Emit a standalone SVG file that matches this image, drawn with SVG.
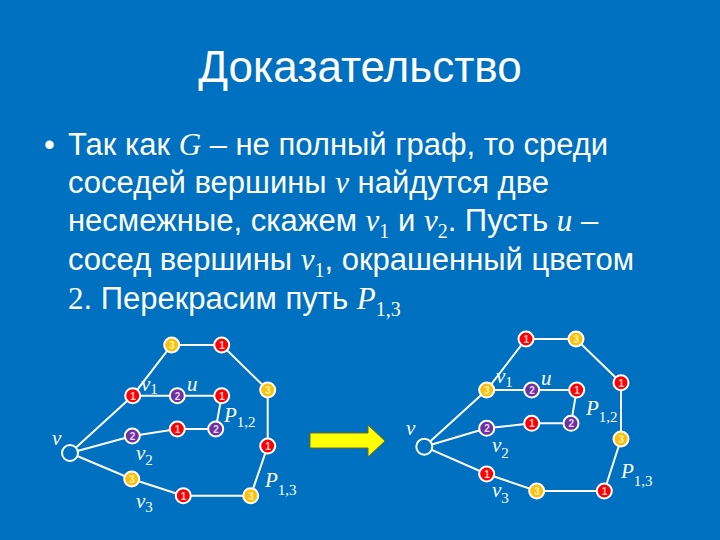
<svg xmlns="http://www.w3.org/2000/svg" width="720" height="540" viewBox="0 0 720 540">
<style>
.title{font-family:"Liberation Sans",Arial,sans-serif;font-size:44px;fill:#fff}
.body{font-family:"Liberation Sans",Arial,sans-serif;font-size:31px;fill:#fff}
.m{font-family:"Liberation Serif","Times New Roman",serif;font-style:italic}
.r{font-family:"Liberation Serif","Times New Roman",serif;font-style:normal}
.bs{font-family:"Liberation Serif","Times New Roman",serif;font-size:20px}
.lbl{font-family:"Liberation Serif","Times New Roman",serif;font-style:italic;font-size:21px;fill:#fff}
.sub{font-style:normal;font-size:15px}
.edge{stroke:#fff;stroke-width:2;fill:none}
.n circle{stroke:#fff;stroke-width:2}
.n text{font-family:"Liberation Sans",Arial,sans-serif;font-size:10px;font-weight:bold;fill:#fff;text-anchor:middle;opacity:0.8}
.c1{fill:#FF0000}
.c2{fill:#7030A0}
.c3{fill:#FFC000}
.cv{fill:#0070C0;stroke-width:2.5}
</style>
<rect width="720" height="540" fill="#0070C0"/>
<text class="title" x="360" y="82" text-anchor="middle">Доказательство</text>
<g id="text">
<text class="body" x="44" y="155">•</text>
<text class="body" x="68" y="155">Так как <tspan class="m">G</tspan> – не полный граф, то среди</text>
<text class="body" x="68" y="193">соседей вершины <tspan class="m">v</tspan> найдутся две</text>
<text class="body" x="68" y="231">несмежные, скажем <tspan class="m">v</tspan><tspan class="bs" dy="7">1</tspan><tspan dy="-7"> и </tspan><tspan class="m">v</tspan><tspan class="bs" dy="7">2</tspan><tspan dy="-7">. Пусть </tspan><tspan class="m">u</tspan> –</text>
<text class="body" x="68" y="270">сосед вершины <tspan class="m">v</tspan><tspan class="bs" dy="7">1</tspan><tspan dy="-7">, окрашенный цветом</tspan></text>
<text class="body" x="68" y="309"><tspan class="r">2</tspan>. Перекрасим путь <tspan class="m">P</tspan><tspan class="bs" dy="7">1,3</tspan></text>
</g>
<g id="connectors">
<polyline class="edge" points="70,453 132.7,395.7 171.7,345 221.7,345 267.7,390 267.7,446 250.7,495.7 183.3,495.7 131.7,479 70,453"/>
<polyline class="edge" points="70,453 132.3,436 177.3,429 215.7,429 221.7,395.7 177.3,395.7 132.7,395.7"/>
<polyline class="edge" points="424.3,446.7 486.7,390 526,339 576,339 621,382.7 621,439 604.3,491 536.7,491 486.7,474 424.3,446.7"/>
<polyline class="edge" points="424.3,446.7 486.7,428.3 531.7,423.3 571,423.3 576.7,390 531.7,390 486.7,390"/>
</g>
<g id="left-graph">
<g id="L-v" class="n"><circle class="cv" cx="70" cy="453" r="8"/></g>
<g id="L-v1" class="n"><circle class="c1" cx="132.7" cy="395.7" r="7.5"/><text x="133" y="399.5">1</text></g>
<g id="L-top1" class="n"><circle class="c3" cx="171.7" cy="345" r="7.5"/><text x="172" y="348.8">3</text></g>
<g id="L-top2" class="n"><circle class="c1" cx="221.7" cy="345" r="7.5"/><text x="222" y="348.8">1</text></g>
<g id="L-r1" class="n"><circle class="c3" cx="267.7" cy="390" r="7.5"/><text x="268" y="393.8">3</text></g>
<g id="L-r2" class="n"><circle class="c1" cx="267.7" cy="446" r="7.5"/><text x="268" y="449.8">1</text></g>
<g id="L-b1" class="n"><circle class="c3" cx="250.7" cy="495.7" r="7.5"/><text x="251" y="499.5">3</text></g>
<g id="L-b2" class="n"><circle class="c1" cx="183.3" cy="495.7" r="7.5"/><text x="183.5" y="499.5">1</text></g>
<g id="L-v3" class="n"><circle class="c3" cx="131.7" cy="479" r="7.5"/><text x="132" y="482.8">3</text></g>
<g id="L-v2" class="n"><circle class="c2" cx="132.3" cy="436" r="7.5"/><text x="132.5" y="439.8">2</text></g>
<g id="L-m1" class="n"><circle class="c1" cx="177.3" cy="429" r="7.5"/><text x="177.5" y="432.8">1</text></g>
<g id="L-m2" class="n"><circle class="c2" cx="215.7" cy="429" r="7.5"/><text x="216" y="432.8">2</text></g>
<g id="L-u" class="n"><circle class="c2" cx="177.3" cy="395.7" r="7.5"/><text x="177.5" y="399.5">2</text></g>
<g id="L-ur" class="n"><circle class="c1" cx="221.7" cy="395.7" r="7.5"/><text x="222" y="399.5">1</text></g>
</g>
<g id="left-labels">
<text class="lbl" x="52" y="445">v</text>
<text class="lbl" x="141" y="391">v<tspan class="sub" dy="3">1</tspan></text>
<text class="lbl" x="187" y="391">u</text>
<text class="lbl" x="224" y="422">P<tspan class="sub" dy="5">1,2</tspan></text>
<text class="lbl" x="136" y="460">v<tspan class="sub" dy="5">2</tspan></text>
<text class="lbl" x="136" y="508">v<tspan class="sub" dy="4">3</tspan></text>
<text class="lbl" x="265" y="487">P<tspan class="sub" dy="8">1,3</tspan></text>
</g>
<g id="arrow">
<polygon points="310,433 368,433 368,425 385,441 368,457 368,448 310,448" fill="#FFFF00" stroke="#6b6b2a" stroke-width="1"/>
</g>
<g id="right-graph">
<g id="R-v" class="n"><circle class="cv" cx="424.3" cy="446.7" r="8"/></g>
<g id="R-v1" class="n"><circle class="c3" cx="486.7" cy="390" r="7.5"/><text x="487" y="393.8">3</text></g>
<g id="R-top1" class="n"><circle class="c1" cx="526" cy="339" r="7.5"/><text x="526.3" y="342.8">1</text></g>
<g id="R-top2" class="n"><circle class="c3" cx="576" cy="339" r="7.5"/><text x="576.3" y="342.8">3</text></g>
<g id="R-r1" class="n"><circle class="c1" cx="621" cy="382.7" r="7.5"/><text x="621.3" y="386.5">1</text></g>
<g id="R-r2" class="n"><circle class="c3" cx="621" cy="439" r="7.5"/><text x="621.3" y="442.8">3</text></g>
<g id="R-b1" class="n"><circle class="c1" cx="604.3" cy="491" r="7.5"/><text x="604.6" y="494.8">1</text></g>
<g id="R-b2" class="n"><circle class="c3" cx="536.7" cy="491" r="7.5"/><text x="537" y="494.8">3</text></g>
<g id="R-v3" class="n"><circle class="c1" cx="486.7" cy="474" r="7.5"/><text x="487" y="477.8">1</text></g>
<g id="R-v2" class="n"><circle class="c2" cx="486.7" cy="428.3" r="7.5"/><text x="487" y="432.1">2</text></g>
<g id="R-m1" class="n"><circle class="c1" cx="531.7" cy="423.3" r="7.5"/><text x="532" y="427.1">1</text></g>
<g id="R-m2" class="n"><circle class="c2" cx="571" cy="423.3" r="7.5"/><text x="571.3" y="427.1">2</text></g>
<g id="R-u" class="n"><circle class="c2" cx="531.7" cy="390" r="7.5"/><text x="532" y="393.8">2</text></g>
<g id="R-ur" class="n"><circle class="c1" cx="576.7" cy="390" r="7.5"/><text x="577" y="393.8">1</text></g>
</g>
<g id="right-labels">
<text class="lbl" x="406" y="435">v</text>
<text class="lbl" x="496" y="383">v<tspan class="sub" dy="4">1</tspan></text>
<text class="lbl" x="541" y="385">u</text>
<text class="lbl" x="586" y="415">P<tspan class="sub" dy="7">1,2</tspan></text>
<text class="lbl" x="492" y="452">v<tspan class="sub" dy="6">2</tspan></text>
<text class="lbl" x="492" y="497">v<tspan class="sub" dy="6">3</tspan></text>
<text class="lbl" x="621" y="478">P<tspan class="sub" dy="8">1,3</tspan></text>
</g>
</svg>
